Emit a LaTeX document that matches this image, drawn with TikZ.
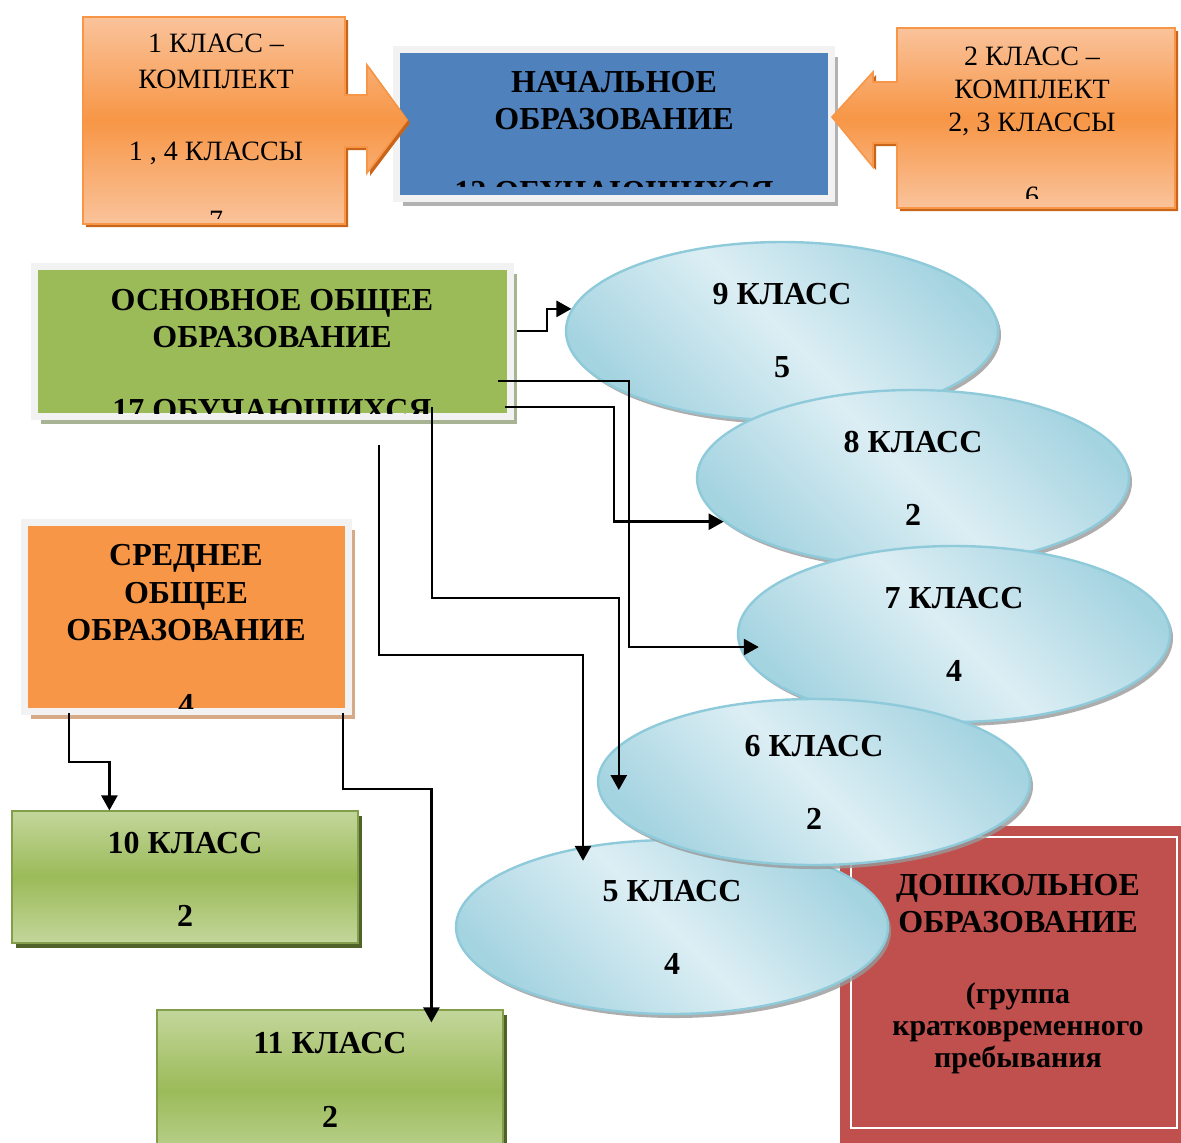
\documentclass[tikz,border=0pt]{standalone}
\usepackage{fontspec}
\setmainfont{Liberation Serif}
\usetikzlibrary{arrows.meta,calc,fit,shadows,shapes.geometric}
\definecolor{orangeacc}{HTML}{F79646}
\definecolor{orangelight}{HTML}{FAC39B}
\definecolor{orangeshadow}{HTML}{C8651B}
\definecolor{orangeframe}{HTML}{D6AA87}
\definecolor{blueacc}{HTML}{4F81BD}
\definecolor{greenacc}{HTML}{9BBB59}
\definecolor{greenlight}{HTML}{C3D69B}
\definecolor{greenshadow}{HTML}{4F6228}
\definecolor{greenframe}{HTML}{A8B394}
\definecolor{redacc}{HTML}{C0504D}
\definecolor{framegray}{HTML}{F2F2F2}
\definecolor{ellborder}{HTML}{8FCADA}
\definecolor{elldark}{HTML}{A5D4E1}
\definecolor{elllight}{HTML}{DCEEF4}

\begin{document}
\begin{tikzpicture}[x=0.5pt, y=-0.5pt,
  hd/.style={font=\fontsize{16}{18.5}\selectfont\bfseries, align=center, inner sep=0pt, anchor=north},
  rg/.style={font=\fontsize{14}{17.75}\selectfont, align=center, inner sep=0pt, anchor=north},
  callout/.style={draw=orangeacc, line width=0.8pt, top color=orangelight, bottom color=orangelight, middle color=orangeacc,
    drop shadow={shadow xshift=1.5pt, shadow yshift=-1.5pt, fill=orangeshadow, opacity=1}},
  framebox/.style={draw=framegray, line width=3.5pt, inner sep=1.75pt,
    drop shadow={shadow xshift=3pt, shadow yshift=-3.5pt, fill=#1, opacity=1}},
  greenbox/.style={draw=greenacc!85!black, line width=0.6pt, inner sep=0pt, top color=greenlight, bottom color=greenlight, middle color=greenacc,
    drop shadow={shadow xshift=2pt, shadow yshift=-2.5pt, fill=greenshadow, opacity=1}},
  ell/.style={ellipse, draw=ellborder, line width=1.2pt, top color=elldark, bottom color=elldark, middle color=elllight, shading angle=-45,
    minimum width=216pt, minimum height=88pt, inner sep=0pt, align=center, font=\fontsize{16}{18.5}\selectfont\bfseries,
    drop shadow={shadow xshift=1.5pt, shadow yshift=-2pt, fill=black!40, opacity=.8}},
  conn/.style={line width=1.3pt, -{Triangle[length=7.5pt,width=8pt]}}]
\useasboundingbox (0,0) rectangle (1181,1142);

% primary school
\node[framebox=gray!60, fill=blueacc, fit={(400,53) (828,195)}] (nach) {};
\path[callout] (83,17) -- (345,17) -- (345,95) -- (367,95) -- (367,65) -- (407,120) -- (367,173) -- (367,147) -- (345,147) -- (345,224) -- (83,224) -- cycle;
\path[callout] (1175,28) -- (897,28) -- (897,82) -- (873,82) -- (873,72) -- (832,117) -- (873,167) -- (873,143) -- (897,143) -- (897,208) -- (1175,208) -- cycle;
\begin{scope}
\clip (83,17) rectangle (345,218);
\node[rg] (k1) at (216,34) {1 КЛАСС –\\КОМПЛЕКТ\\[18.25pt]1 , 4 КЛАССЫ\\[16.75pt]7};
\end{scope}
\begin{scope}
\clip (897,28) rectangle (1175,198);
\node[rg, font=\fontsize{14}{16.5}\selectfont] (k2) at (1032,47) {2 КЛАСС –\\КОМПЛЕКТ\\2, 3 КЛАССЫ\\[20.5pt]6};
\end{scope}
\begin{scope}
\clip (400,53) rectangle (828,186);
\node[hd] (nachtxt) at (614,71) {НАЧАЛЬНОЕ\\ОБРАЗОВАНИЕ\\[18pt]12 ОБУЧАЮЩИХСЯ};
\end{scope}

% basic school
\node[framebox=greenframe, fill=greenacc, fit={(38,270) (507,413)}] (osn) {};
\begin{scope}
\clip (38,270) rectangle (507,413);
\node[hd] (osntxt) at (272,289) {ОСНОВНОЕ ОБЩЕЕ\\ОБРАЗОВАНИЕ\\[18pt]17 ОБУЧАЮЩИХСЯ};
\end{scope}

\node[ell, minimum height=89pt] (e9) at (782,331) {9 КЛАСС\\[18pt]5};
\node[ell] (e8) at (913,478) {8 КЛАСС\\[18pt]2};
\node[ell] (e7) at (954,634) {7 КЛАСС\\[18pt]4};

% preschool
\node[fill=redacc, inner sep=0pt, fit={(840,826) (1200,1160)}] (dosh) {};
\draw[white, line width=1.4pt] (851,837) rectangle (1177,1128);
\node[hd] (doshtxt) at (1018,874) {ДОШКОЛЬНОЕ\\ОБРАЗОВАНИЕ\\[17pt]{\fontsize{15}{16}\selectfont(группа}\\[-2.5pt]{\fontsize{15}{16}\selectfont кратковременного}\\[-2.5pt]{\fontsize{15}{16}\selectfont пребывания}};

\node[ell, minimum height=87pt] (e5) at (672,927) {5 КЛАСС\\[18pt]4};
\node[ell, minimum height=83pt] (e6) at (814,782) {6 КЛАСС\\[18pt]2};

% secondary school
\node[framebox=orangeframe, fill=orangeacc, fit={(28,526) (345,708)}] (sred) {};
\begin{scope}
\clip (28,526) rectangle (345,708);
\node[hd, font=\fontsize{16}{18.75}\selectfont\bfseries] (sredtxt) at (186,544) {СРЕДНЕЕ\\ОБЩЕЕ\\ОБРАЗОВАНИЕ\\[18.75pt]4};
\end{scope}
\node[greenbox, fit={(12,811) (358,943)}] (b10) {};
\node[hd] (b10txt) at (185,832) {10 КЛАСС\\[18pt]2};
\node[greenbox, fit={(157,1010) (503,1170)}] (b11) {};
\node[hd] (b11txt) at (330,1032) {11 КЛАСС\\[18.5pt]2};

\coordinate (o1) at (517,331);
\coordinate (o2) at (498,381);
\coordinate (o3) at (505,407);
\coordinate (o4) at (432,407);
\coordinate (o5) at (379,445);
\coordinate (c1) at (69,713);
\coordinate (c2) at (343,713);
\draw[conn] (o1) -- ++(30,0) |- (e9.174);
\draw[conn] (o2) -- ++(131,0) |- ($(e7.west)+(22,13)$);
\draw[conn] (o3) -- ++(109,0) |- (e8.193);
\draw[conn] (o4) -- ++(0,191) -| ($(e6.west)+(22,8)$);
\draw[conn] (o5) -- ++(0,210) -| ($(e5.north)+(-89,22)$);
\draw[conn] (c1) -- ++(0,49) -| ($(b10.north west)+(98,0)$);
\draw[conn] (c2) -- ++(0,76) -| ($(b11.north west)+(275,13)$);
\end{tikzpicture}
\end{document}
